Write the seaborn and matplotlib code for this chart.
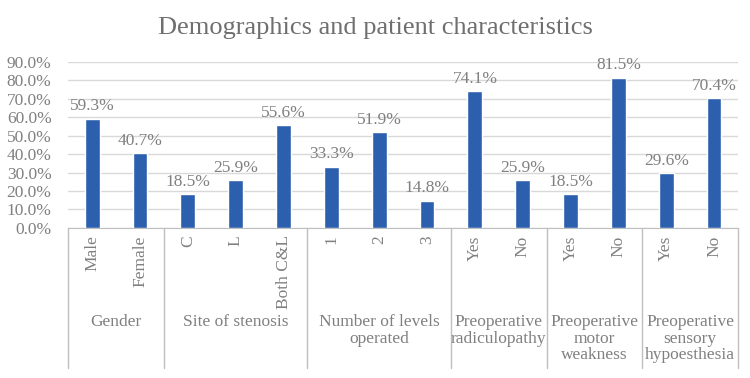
import pandas as pd
import matplotlib.pyplot as plt
import matplotlib.transforms as mtransforms
from matplotlib.ticker import FuncFormatter
import seaborn as sns

# data
groups = ["Gender", "Site of stenosis", "Number of levels\noperated",
          "Preoperative\nradiculopathy", "Preoperative\nmotor\nweakness",
          "Preoperative\nsensory\nhypoesthesia"]
group_items = [["Male", "Female"], ["C", "L", "Both C&L"], ["1", "2", "3"],
               ["Yes", "No"], ["Yes", "No"], ["Yes", "No"]]
values = [59.3, 40.7, 18.5, 25.9, 55.6, 33.3, 51.9, 14.8,
          74.1, 25.9, 18.5, 81.5, 29.6, 70.4]
y_ticks = [0, 10, 20, 30, 40, 50, 60, 70, 80, 90]

labels = [item for items in group_items for item in items]
df = pd.DataFrame({"key": [f"{i}_{lab}" for i, lab in enumerate(labels)],
                   "label": labels, "value": values})

sns.set_style("white")
plt.rcParams["font.family"] = ["Liberation Serif", "DejaVu Serif"]

bar_color = "#2c60ae"
text_color = "#808080"
grid_color = "#d9d9d9"
fs = 12.5

fig = plt.figure(figsize=(7.5, 3.78), dpi=100)
ax = fig.add_axes([0.091, 0.397, 0.893, 0.439])

sns.barplot(data=df, x="key", y="value", color=bar_color, width=0.31,
            saturation=1, ax=ax, zorder=3)

ax.set_ylim(0, 90)
ax.set_xlim(-0.5, len(values) - 0.5)
ax.set_yticks(y_ticks)
ax.yaxis.set_major_formatter(FuncFormatter(lambda v, _: f"{v:.1f}%"))
ax.tick_params(axis="y", labelsize=fs, labelcolor=text_color, length=0, pad=12)
ax.set_xticks([])
ax.set_xlabel("")
ax.set_ylabel("")
ax.grid(axis="y", color=grid_color, linewidth=1, zorder=0)
for side in ["left", "right", "top"]:
    ax.spines[side].set_visible(False)
ax.spines["bottom"].set_color("#bfbfbf")

for container in ax.containers:
    ax.bar_label(container, labels=[f"{v:.1f}%" for v in values], padding=3,
                 color=text_color, fontsize=fs)

# multi-level category axis
trans = mtransforms.blended_transform_factory(ax.transData, ax.transAxes)
for i, lab in enumerate(labels):
    ax.text(i, -0.045, lab, rotation=90, ha="center", va="top", transform=trans,
            color=text_color, fontsize=fs)

pos = 0
bounds = [-0.5]
for g, items in zip(groups, group_items):
    centre = pos + (len(items) - 1) / 2
    ax.text(centre, -0.52, g, ha="center", va="top", transform=trans,
            color=text_color, fontsize=fs, linespacing=1.05)
    pos += len(items)
    bounds.append(pos - 0.5)
for b in bounds:
    ax.plot([b, b], [0, -0.843], transform=trans, color="#bfbfbf",
            linewidth=1, clip_on=False)

fig.suptitle("Demographics and patient characteristics", y=0.955,
             fontsize=19, color="#6f6f6f")

fig.savefig("out.png", dpi=100)
